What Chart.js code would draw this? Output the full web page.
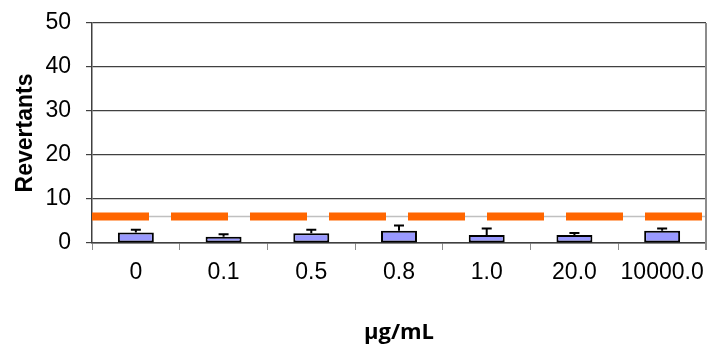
<!DOCTYPE html>
<html>
<head>
<meta charset="utf-8">
<script src="https://cdn.jsdelivr.net/npm/chart.js@4"></script>
<style>
  html, body { margin: 0; padding: 0; background: #fff; }
  #wrap { width: 710px; height: 350px; position: relative; }
</style>
</head>
<body>
<div id="wrap"><canvas id="revChart"></canvas></div>
<script>
const doses = ['0', '0.1', '0.5', '0.8', '1.0', '20.0', '10000.0'];
const meanRevertants = [2.4, 1.4, 2.2, 2.8, 1.8, 1.8, 2.8];
const errUpper = [0.6, 0.6, 0.8, 1.2, 1.5, 0.5, 0.5];
const thresholdValue = 6;
const yTicks = [0, 10, 20, 30, 40, 50];

// error bars (upward only) + threshold line, drawn through the scales
const extrasPlugin = {
    id: 'extras',
    beforeDatasetsDraw(chart) {
        const ctx = chart.ctx;
        const area = chart.chartArea;
        const y = chart.scales.y.getPixelForValue(thresholdValue);
        ctx.save();
        ctx.strokeStyle = '#c0c0c0';
        ctx.lineWidth = 1.5;
        ctx.beginPath();
        ctx.moveTo(area.left, y);
        ctx.lineTo(area.right, y);
        ctx.stroke();
        ctx.strokeStyle = '#ff6600';
        ctx.lineWidth = 8;
        ctx.setLineDash([57, 22]);
        ctx.beginPath();
        ctx.moveTo(area.left, y);
        ctx.lineTo(area.right, y);
        ctx.stroke();
        ctx.restore();
    },
    afterDatasetsDraw(chart) {
        const ctx = chart.ctx;
        const yScale = chart.scales.y;
        const meta = chart.getDatasetMeta(0);
        ctx.save();
        ctx.strokeStyle = '#000';
        ctx.lineWidth = 2;
        meta.data.forEach((bar, i) => {
            const top = yScale.getPixelForValue(meanRevertants[i] + errUpper[i]);
            const base = yScale.getPixelForValue(meanRevertants[i]);
            ctx.beginPath();
            ctx.moveTo(bar.x, base);
            ctx.lineTo(bar.x, top);
            ctx.moveTo(bar.x - 5, top);
            ctx.lineTo(bar.x + 5, top);
            ctx.stroke();
        });
        // right frame edge
        const area = chart.chartArea;
        ctx.strokeStyle = '#8c8c8c';
        ctx.lineWidth = 2;
        ctx.beginPath();
        ctx.moveTo(area.right, area.top);
        ctx.lineTo(area.right, area.bottom + 7);
        ctx.stroke();
        ctx.restore();
    }
};

new Chart(document.getElementById('revChart'), {
    type: 'bar',
    data: {
        labels: doses,
        datasets: [{
            data: meanRevertants,
            backgroundColor: '#9999ff',
            borderColor: '#000',
            borderWidth: 2,
            borderSkipped: false,
            categoryPercentage: 1,
            barPercentage: 0.41
        }]
    },
    options: {
        responsive: true,
        maintainAspectRatio: false,
        animation: false,
        layout: { padding: { top: 23, right: 4, left: 0, bottom: 0 } },
        plugins: {
            legend: { display: false },
            tooltip: { enabled: false }
        },
        scales: {
            x: {
                grid: {
                    display: true,
                    drawOnChartArea: false,
                    tickLength: 7,
                    tickColor: '#8c8c8c',
                    offset: true
                },
                border: { color: '#404040', width: 1.5 },
                ticks: {
                    color: '#000',
                    padding: 9,
                    maxRotation: 0,
                    autoSkip: false,
                    font: { family: 'Liberation Sans', size: 23 }
                },
                title: {
                    display: true,
                    text: 'µg/mL',
                    color: '#000',
                    padding: { top: 0, bottom: 4 },
                    font: { family: 'Open Sans', size: 22, weight: 'bold' }
                },
                afterFit(scale) {
                    scale.height = 107;
                    scale.paddingLeft = 0;
                    scale.paddingRight = 0;
                }
            },
            y: {
                min: 0,
                max: 50,
                afterBuildTicks(scale) {
                    scale.ticks = yTicks.map(v => ({ value: v }));
                },
                grid: {
                    color: '#404040',
                    lineWidth: 1.2,
                    tickLength: 6,
                    tickColor: '#404040'
                },
                border: { color: '#404040', width: 1.5 },
                ticks: {
                    color: '#000',
                    padding: 15,
                    font: { family: 'Liberation Sans', size: 23 }
                },
                title: {
                    display: true,
                    text: 'Revertants',
                    color: '#000',
                    padding: { top: 12, bottom: 0 },
                    font: { family: 'Liberation Sans', size: 23, weight: 'bold' }
                },
                afterFit(scale) {
                    scale.width = 92;
                    scale.paddingTop = 0;
                    scale.paddingBottom = 0;
                }
            }
        }
    },
    plugins: [extrasPlugin]
});
</script>
</body>
</html>
